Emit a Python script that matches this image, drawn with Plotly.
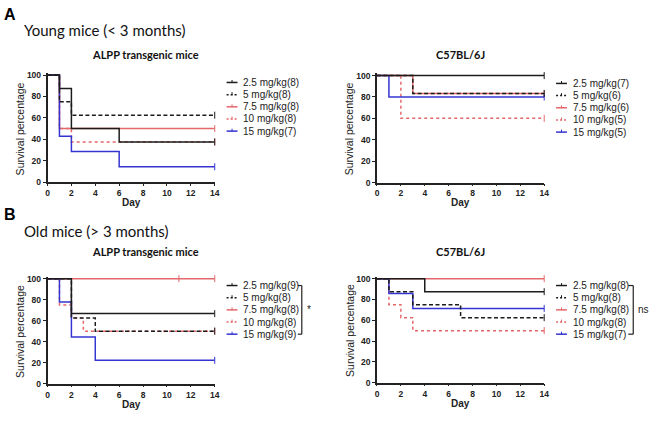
import plotly.graph_objects as go

W, H = 661, 421

# ---------------- DATA ----------------
doses = ["2.5 mg/kg", "5 mg/kg", "7.5 mg/kg", "10 mg/kg", "15 mg/kg"]
day_ticks = [0, 2, 4, 6, 8, 10, 12, 14]
pct_ticks = [0, 20, 40, 60, 80, 100]

# Panel A left: young, ALPP transgenic
young_alpp_n = [8, 8, 8, 8, 7]
young_alpp_t = [[0, 1, 2, 6, 14], [0, 1, 2, 14], [0, 1, 14], [0, 1, 2, 14], [0, 1, 2, 6, 14]]
young_alpp_s = [[100, 87.5, 50, 37.5, 37.5], [100, 75, 62.5, 62.5], [100, 50, 50],
                [100, 50, 37.5, 37.5], [100, 42.9, 28.6, 14.3, 14.3]]

# Panel A right: young, C57BL/6J
young_c57_n = [7, 6, 6, 5, 5]
young_c57_t = [[0, 14], [0, 3, 14], [0, 3, 14], [0, 2, 14], [0, 1, 14]]
young_c57_s = [[100, 100], [100, 83.3, 83.3], [100, 83.3, 83.3], [100, 60, 60], [100, 80, 80]]

# Panel B left: old, ALPP transgenic
old_alpp_n = [9, 8, 8, 8, 9]
old_alpp_t = [[0, 2, 14], [0, 2, 4, 14], [0, 14], [0, 1, 2, 3, 14], [0, 1, 2, 4, 14]]
old_alpp_s = [[100, 66.7, 66.7], [100, 62.5, 50, 50], [100, 100], [100, 75, 62.5, 50, 50],
              [100, 77.8, 44.4, 22.2, 22.2]]

# Panel B right: old, C57BL/6J
old_c57_n = [8, 8, 8, 8, 7]
old_c57_t = [[0, 4, 14], [0, 1, 3, 7, 14], [0, 14], [0, 1, 2, 3, 14], [0, 1, 3, 14]]
old_c57_s = [[100, 87.5, 87.5], [100, 87.5, 75, 62.5, 62.5], [100, 100], [100, 75, 62.5, 50, 50],
             [100, 85.7, 71.4, 71.4]]

# extra censor marks (day, survival) inside the follow-up
old_alpp_censor = [[], [], [(11, 100)], [], []]

# ---------------- STYLE ----------------
BLACK = "#1c1c1c"
RED = "#e4676a"
BLUE = "#3434d2"
colors = [BLACK, BLACK, RED, RED, BLUE]
dashes = ["solid", "4px,2.5px", "solid", "3px,3px", "solid"]
LW = 1.5

TICK_FONT = dict(family="Liberation Sans", size=8.5, color="#222", weight="bold")

def px_x(p):
    return p / W

def px_y(p):
    return 1 - p / H

panels = [
    dict(t=young_alpp_t, s=young_alpp_s, n=young_alpp_n, x0=46, x1=215, y0=182.5, y1=73.5,
         title="ALPP transgenic mice", tx=145, ty=53, lx=227, ly=81, dayy=203, yt=18),
    dict(t=young_c57_t, s=young_c57_s, n=young_c57_n, x0=379, x1=548, y0=183, y1=74,
         title="C57BL/6J", tx=463, ty=53, lx=560, ly=82, dayy=203, yt=351),
    dict(t=old_alpp_t, s=old_alpp_s, n=old_alpp_n, x0=46, x1=215, y0=388, y1=281,
         title="ALPP transgenic mice", tx=145, ty=253, lx=227, ly=288, dayy=409, yt=18,
         censor=old_alpp_censor),
    dict(t=old_c57_t, s=old_c57_s, n=old_c57_n, x0=379, x1=548, y0=387, y1=281,
         title="C57BL/6J", tx=463, ty=253, lx=560, ly=288, dayy=408, yt=351),
]

fig = go.Figure()
layout = dict(
    width=W, height=H, margin=dict(l=0, r=0, t=0, b=0),
    paper_bgcolor="white", plot_bgcolor="white", showlegend=False,
)
annotations = []
shapes = []
YTOP = 102
ROW = 12.4

for i, p in enumerate(panels):
    k = "" if i == 0 else str(i + 1)
    xa, ya = "x" + k, "y" + k
    ptop = p["y1"] - (p["y0"] - p["y1"]) * (YTOP - 100) / 100
    layout["xaxis" + k] = dict(
        domain=[px_x(p["x0"]), px_x(p["x1"])], range=[0, 14], anchor=ya,
        tickvals=day_ticks, ticks="outside", ticklen=2, tickwidth=1, tickcolor="#222",
        showline=True, linecolor="#222", linewidth=1.5, showgrid=False, zeroline=False,
        tickfont=TICK_FONT,
    )
    layout["yaxis" + k] = dict(
        domain=[px_y(p["y0"]), px_y(ptop)], range=[0, YTOP], anchor=xa,
        tickvals=pct_ticks, ticks="outside", ticklen=3, tickwidth=1, tickcolor="#222",
        showline=True, linecolor="#222", linewidth=1.5, showgrid=False, zeroline=False,
        tickfont=TICK_FONT,
    )
    for j in [2, 3, 4, 0, 1]:
        fig.add_trace(go.Scatter(
            x=p["t"][j], y=p["s"][j], mode="lines", line_shape="hv",
            line=dict(color=colors[j], width=LW, dash=dashes[j]),
            xaxis=xa, yaxis=ya, hoverinfo="skip",
        ))
        cx = [p["t"][j][-1]]
        cy = [p["s"][j][-1]]
        for (c_t, c_s) in p.get("censor", [[]] * 5)[j]:
            cx.append(c_t)
            cy.append(c_s)
        fig.add_trace(go.Scatter(
            x=cx, y=cy, mode="markers", cliponaxis=False,
            marker=dict(symbol="line-ns", size=5, line=dict(color=colors[j], width=1)),
            xaxis=xa, yaxis=ya, hoverinfo="skip",
        ))
    annotations.append(dict(text="<b>" + p["title"] + "</b>", x=px_x(p["tx"]), y=px_y(p["ty"]),
                            xref="paper", yref="paper", showarrow=False, xanchor="center",
                            yanchor="middle", font=dict(family="Lato", size=11, color="#111")))
    annotations.append(dict(text="<b>Day</b>", x=px_x((p["x0"] + p["x1"]) / 2), y=px_y(p["dayy"]),
                            xref="paper", yref="paper", showarrow=False, xanchor="center",
                            yanchor="middle", font=dict(family="Liberation Sans", size=10, color="#222")))
    annotations.append(dict(text="Survival percentage", x=px_x(p["yt"]), y=px_y((p["y0"] + p["y1"]) / 2),
                            xref="paper", yref="paper", showarrow=False, textangle=-90,
                            xanchor="center", yanchor="middle",
                            font=dict(family="Liberation Sans", size=10.5, color="#222")))
    for j in range(5):
        yy = p["ly"] + j * ROW
        shapes.append(dict(type="line", xref="paper", yref="paper",
                           x0=px_x(p["lx"]), x1=px_x(p["lx"] + 11), y0=px_y(yy), y1=px_y(yy),
                           line=dict(color=colors[j], width=LW, dash="2px,2px" if "px" in dashes[j] else "solid")))
        shapes.append(dict(type="line", xref="paper", yref="paper",
                           x0=px_x(p["lx"] + 5.5), x1=px_x(p["lx"] + 5.5), y0=px_y(yy - 2.5), y1=px_y(yy + 0.5),
                           line=dict(color=colors[j], width=1)))
        annotations.append(dict(text=f"{doses[j]}({p['n'][j]})", x=px_x(p["lx"] + 15), y=px_y(yy),
                                xref="paper", yref="paper", showarrow=False, xanchor="left",
                                yanchor="middle", font=dict(family="Liberation Sans", size=10, color="#222")))

def bracket(xl, xr, ytop, ybot, label, lx):
    for (a, b, c, d) in [(xl, ytop, xr, ytop), (xr, ytop, xr, ybot), (xl, ybot, xr, ybot)]:
        shapes.append(dict(type="line", xref="paper", yref="paper", x0=px_x(a), y0=px_y(b),
                           x1=px_x(c), y1=px_y(d), line=dict(color="#222", width=1.2)))
    annotations.append(dict(text=label, x=px_x(lx), y=px_y((ytop + ybot) / 2), xref="paper", yref="paper",
                            showarrow=False, xanchor="left", yanchor="middle",
                            font=dict(family="Liberation Sans", size=10, color="#222")))

bracket(299, 303, 288, 288 + 4 * ROW, "*", 306)
bracket(633, 638, 288, 288 + 4 * ROW, "ns", 641)

for txt, yy in [("A", 12), ("B", 216)]:
    annotations.append(dict(text="<b>" + txt + "</b>", x=px_x(0), y=px_y(yy), xref="paper", yref="paper",
                            showarrow=False, xanchor="left", yanchor="middle",
                            font=dict(family="Liberation Sans", size=16, color="#000")))
for txt, yy in [("Young mice (&lt; 3 months)", 28), ("Old mice (&gt; 3 months)", 232)]:
    annotations.append(dict(text=txt, x=px_x(20), y=px_y(yy), xref="paper", yref="paper",
                            showarrow=False, xanchor="left", yanchor="middle",
                            font=dict(family="Lato", size=15, color="#111")))

layout["annotations"] = annotations
layout["shapes"] = shapes
fig.update_layout(**layout)
fig.write_html("out.html")
